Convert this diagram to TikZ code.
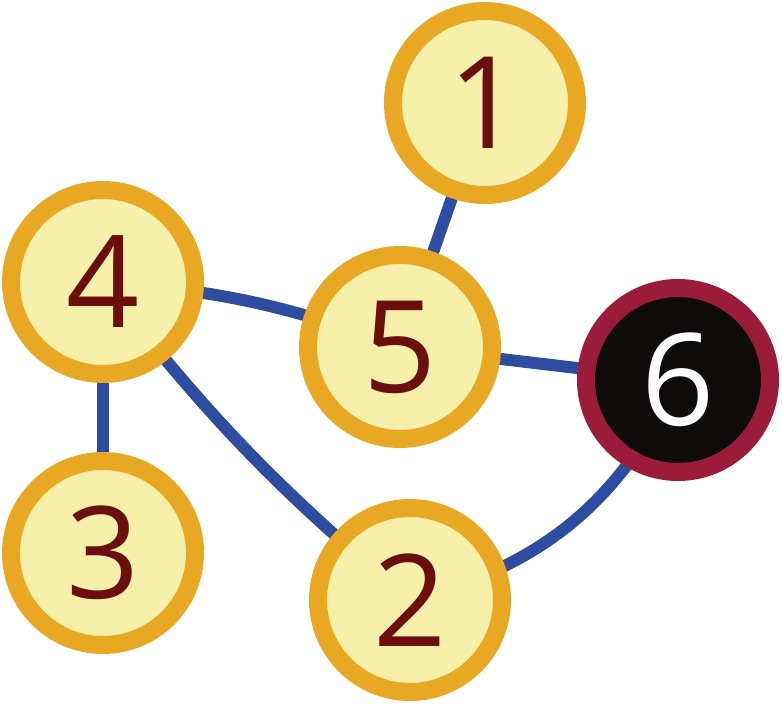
\documentclass[tikz,border=0pt]{standalone}
\usepackage{fontspec}
\setmainfont{Open Sans}
\usetikzlibrary{backgrounds}
\definecolor{nfill}{HTML}{F7F0AA}
\definecolor{nring}{HTML}{E8A823}
\definecolor{ntext}{HTML}{6B0E0E}
\definecolor{dfill}{HTML}{0F0B0B}
\definecolor{dring}{HTML}{9B1B3A}
\definecolor{edgec}{HTML}{2E4DA0}
\begin{document}
\begin{tikzpicture}[x=1pt,y=-1pt,
  vtx/.style={circle,minimum size=184pt,inner sep=0pt,line width=18pt,draw=nring,fill=nfill,text=ntext,font=\fontsize{128}{128}\selectfont},
  dvtx/.style={vtx,draw=dring,fill=dfill,text=white},
  edge/.style={draw=edgec,line width=12pt}]
\useasboundingbox (0,0) rectangle (782,709);
\node[vtx] (n1) at (485,103) {1};
\node[vtx] (n4) at (103,282) {4};
\node[vtx] (n5) at (400,347) {5};
\node[dvtx] (n6) at (678,380) {6};
\node[vtx] (n3) at (103,553) {3};
\node[vtx] (n2) at (410,600) {2};
\begin{scope}[on background layer]
\draw[edge] (n1.center) -- (n5.center);
\draw[edge] (n4.center) to[bend left=8] (n5.center);
\draw[edge] (n5.center) -- (n6.center);
\draw[edge] (n4.center) -- (n3.center);
\draw[edge] (n4.center) to[bend left=-6] (n2.center);
\draw[edge] (n2.center) to[bend right=25] (n6.center);
\end{scope}
\end{tikzpicture}
\end{document}
